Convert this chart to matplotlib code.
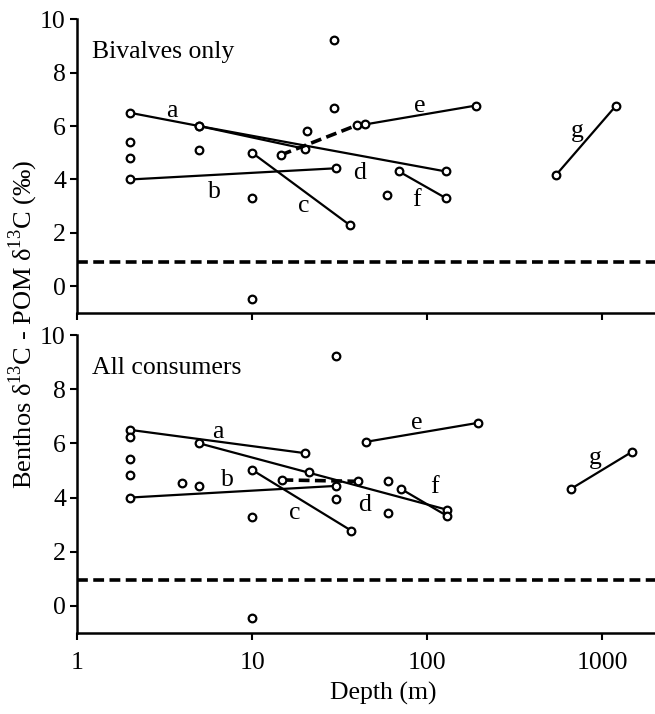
import matplotlib
matplotlib.use("Agg")
import matplotlib.pyplot as plt

plt.rcParams["font.family"] = ["Liberation Serif", "DejaVu Serif"]
plt.rcParams["mathtext.fontset"] = "custom"
plt.rcParams["mathtext.rm"] = "Liberation Serif"

# ---- Bivalves only (top panel) ----
bv_a_x = [2, 5, 20]
bv_a_y = [6.5, 6.0, 5.15]
bv_b_x = [2, 30]
bv_b_y = [4.0, 4.42]
bv_c_x = [10, 36]
bv_c_y = [5.0, 2.3]
bv_d_x = [5, 128]
bv_d_y = [6.0, 4.3]
bv_e_x = [44, 190]
bv_e_y = [6.06, 6.77]
bv_f_x = [69, 128]
bv_f_y = [4.3, 3.3]
bv_g_x = [546, 1200]
bv_g_y = [4.18, 6.77]
bv_dash_x = [14.6, 39.5]
bv_dash_y = [4.92, 6.03]
bv_pts_x = [2, 2, 5, 10, 10, 20.5, 29.5, 29.5, 59]
bv_pts_y = [5.4, 4.82, 5.09, 3.31, -0.49, 5.8, 9.22, 6.67, 3.41]
bv_pom = 0.91

# ---- All consumers (bottom panel) ----
ac_a_x = [2, 20]
ac_a_y = [6.5, 5.64]
ac_b_x = [2, 30]
ac_b_y = [4.0, 4.43]
ac_c_x = [10, 36.8]
ac_c_y = [5.02, 2.78]
ac_d_x = [5, 130]
ac_d_y = [6.0, 3.55]
ac_e_x = [45, 196]
ac_e_y = [6.06, 6.76]
ac_f_x = [70.8, 130]
ac_f_y = [4.32, 3.32]
ac_g_x = [662, 1480]
ac_g_y = [4.32, 5.69]
ac_dash_x = [14.9, 40]
ac_dash_y = [4.65, 4.6]
ac_pts_x = [2, 2, 2, 4, 5, 10, 10, 21, 30, 30, 60, 60]
ac_pts_y = [6.22, 5.41, 4.82, 4.55, 4.43, 3.3, -0.45, 4.96, 9.22, 3.94, 4.62, 3.44]
ac_pom = 0.97

letters = ["a", "b", "c", "d", "e", "f", "g"]
bv_lab_x = [3.5, 6.1, 19.6, 41, 91, 87, 717]
bv_lab_y = [6.58, 3.52, 3.0, 4.24, 6.75, 3.25, 5.8]
ac_lab_x = [6.4, 7.2, 17.6, 44, 87, 110, 912]
ac_lab_y = [6.43, 4.65, 3.42, 3.73, 6.74, 4.4, 5.45]

mk = dict(marker="o", markersize=5.5, markerfacecolor="white",
          markeredgecolor="black", markeredgewidth=1.6)


def draw_panel(ax, lines, dash, pts, pom, labs, title):
    for xs, ys in lines:
        ax.plot(xs, ys, color="black", lw=1.6, **mk)
    ax.plot(dash[0], dash[1], color="black", lw=2.6,
            linestyle=(0, (3, 1.5)), **mk)
    ax.plot(pts[0], pts[1], linestyle="none", **mk)
    ax.axhline(pom, color="black", lw=2.6, linestyle=(0, (3, 1.5)))
    for t, x, y in zip(letters, labs[0], labs[1]):
        ax.text(x, y, t, fontsize=18.5, ha="center", va="center")
    ax.text(1.22, 8.77, title, fontsize=18.5, ha="left", va="center")

    ax.set_xscale("log")
    ax.set_xlim(1, 2000)
    ax.set_ylim(-1, 10)
    ax.set_yticks([0, 2, 4, 6, 8, 10])
    ax.set_xticks([1, 10, 100, 1000])
    ax.set_xticklabels(["1", "10", "100", "1000"])
    ax.minorticks_off()
    for s in ["top", "right"]:
        ax.spines[s].set_visible(False)
    for s in ["left", "bottom"]:
        ax.spines[s].set_linewidth(1.8)
    ax.tick_params(direction="out", length=5, width=1.5, labelsize=18.5, pad=3)
    ax.tick_params(axis="x", pad=9)


fig = plt.figure(figsize=(6.55, 7.14), dpi=100)
ax1 = fig.add_axes([0.1176, 0.5616, 0.8824, 0.4114])
ax2 = fig.add_axes([0.1176, 0.1134, 0.8824, 0.4174])

draw_panel(ax1,
           [(bv_a_x, bv_a_y), (bv_b_x, bv_b_y), (bv_c_x, bv_c_y),
            (bv_d_x, bv_d_y), (bv_e_x, bv_e_y), (bv_f_x, bv_f_y),
            (bv_g_x, bv_g_y)],
           (bv_dash_x, bv_dash_y), (bv_pts_x, bv_pts_y), bv_pom,
           (bv_lab_x, bv_lab_y), "Bivalves only")
draw_panel(ax2,
           [(ac_a_x, ac_a_y), (ac_b_x, ac_b_y), (ac_c_x, ac_c_y),
            (ac_d_x, ac_d_y), (ac_e_x, ac_e_y), (ac_f_x, ac_f_y),
            (ac_g_x, ac_g_y)],
           (ac_dash_x, ac_dash_y), (ac_pts_x, ac_pts_y), ac_pom,
           (ac_lab_x, ac_lab_y), "All consumers")
ax1.tick_params(axis="x", labelbottom=False)

fig.text(0.036, 0.545, "Benthos δ$^{13}$C - POM δ$^{13}$C (‰)", rotation=90,
         fontsize=19, ha="center", va="center")
fig.text(0.585, 0.029, "Depth (m)", fontsize=18.5, ha="center", va="center")

fig.savefig("out.png", dpi=100)
